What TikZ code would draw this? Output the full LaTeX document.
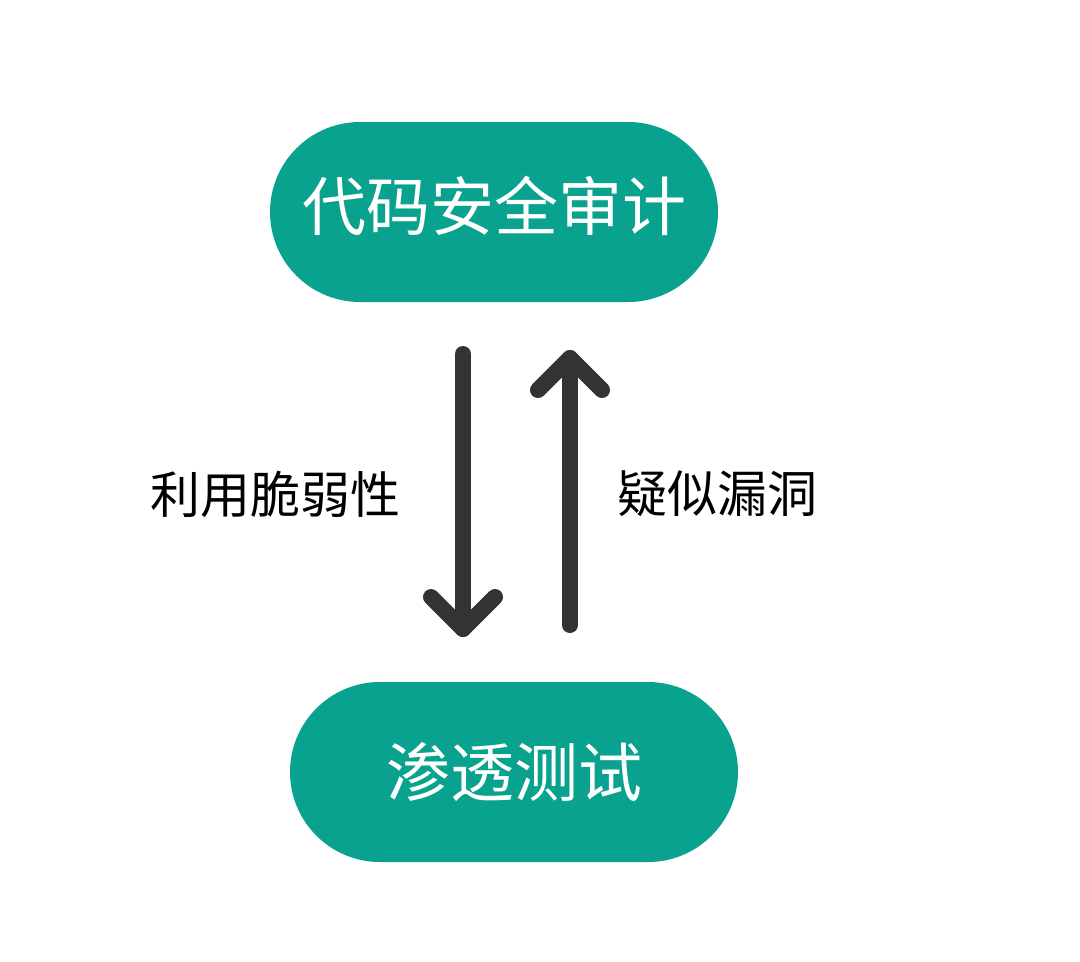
\documentclass[tikz,border=0pt]{standalone}
\usepackage{fontspec}
\usepackage{tikz}
\setmainfont{Noto Sans CJK SC}
\definecolor{teal}{HTML}{08A28F}
\definecolor{dark}{HTML}{333333}

\begin{document}
\begin{tikzpicture}[x=1pt, y=-1pt,
    pill/.style = {fill=teal, text=white, minimum width=448pt, minimum height=180pt, rounded corners=90pt, inner sep=0pt, font=\fontsize{64}{70}\selectfont},
    note/.style = {text=black, inner sep=0pt, font=\fontsize{50}{56}\selectfont},
    arr/.style = {draw=dark, line width=16pt, line cap=round, line join=round}] 
    \useasboundingbox (0,0) rectangle (1080,962);
    \node[pill] (audit) at (494,212) {\raisebox{18pt}{代码安全审计}};
    \node[pill] (pentest) at (514,772) {渗透测试};
    \node[note] (use) at (275,494) {利用脆弱性};
    \node[note] (vuln) at (717,494) {疑似漏洞};
    % down arrow
    \coordinate (d1) at (463,354);
    \coordinate (d2) at (463,629);
    \draw[arr] (d1) -- (d2);
    \draw[arr] ([shift={(-32,-32)}]d2) -- (d2) -- ([shift={(32,-32)}]d2);
    % up arrow
    \coordinate (u1) at (570,625);
    \coordinate (u2) at (570,358);
    \draw[arr] (u1) -- (u2);
    \draw[arr] ([shift={(-32,32)}]u2) -- (u2) -- ([shift={(32,32)}]u2);
\end{tikzpicture}
\end{document}
